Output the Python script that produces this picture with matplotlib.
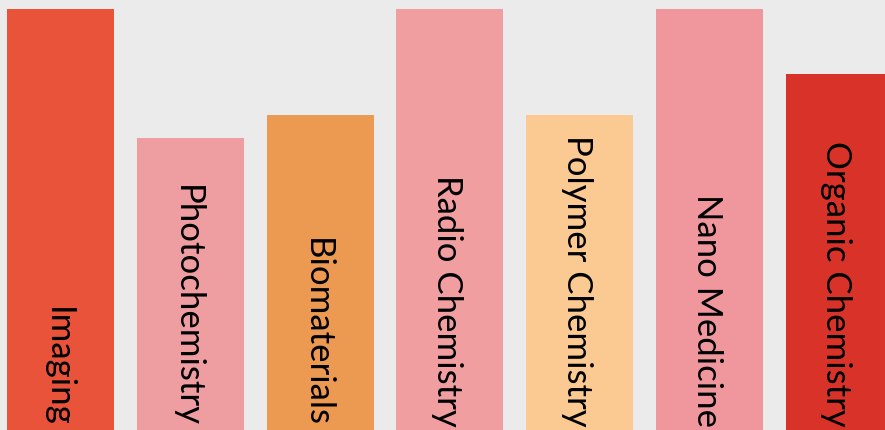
import matplotlib
matplotlib.use("Agg")
import matplotlib.pyplot as plt
import matplotlib.transforms as mtransforms

categories = ["Imaging", "Photochemistry", "Biomaterials", "Radio Chemistry",
              "Polymer Chemistry", "Nano Medicine", "Organic Chemistry"]
values = [100, 69.4, 74.8, 100, 74.8, 100, 84.6]
colors = ["#E9533A", "#EE9EA0", "#EC9A52", "#F09EA0", "#FBCA93", "#F0979D", "#D93329"]

fig = plt.figure(figsize=(8.85, 4.3), dpi=100)
fig.patch.set_facecolor("#EBEBEB")
ax = fig.add_axes([0, 0, 1, 1])
ax.set_facecolor("#EBEBEB")

x = list(range(len(categories)))
ax.bar(x, values, width=0.824, color=colors)

# labels run down the bar, ending at the bottom
offset = mtransforms.offset_copy(ax.transData, fig=fig, x=-3, y=3, units="dots")
for i, label in enumerate(categories):
    ax.text(i, 0, label, rotation=270, ha="center", va="bottom",
            fontsize=25, family="Lato", color="black", transform=offset)

ax.set_xlim(-0.466, 6.352)
ax.set_ylim(0, 100 * 430 / 421)
ax.axis("off")

plt.savefig("out.png", dpi=100, facecolor=fig.get_facecolor())
plt.close()
